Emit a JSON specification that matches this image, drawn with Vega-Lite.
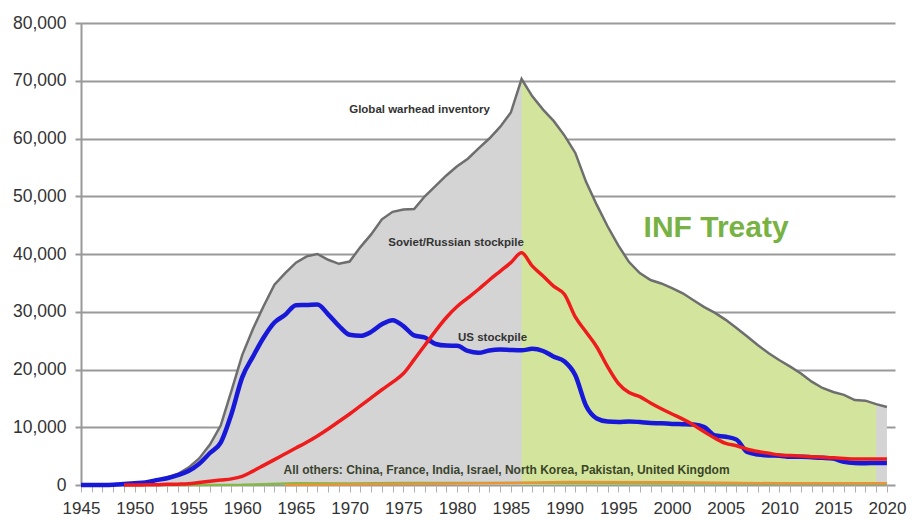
{
  "$schema": "https://vega.github.io/schema/vega-lite/v6.json",
  "width": 814,
  "height": 462,
  "autosize": {"type": "none"},
  "padding": {"left": 81, "top": 23, "right": 24, "bottom": 35},
  "background": "white",
  "config": {"view": {"stroke": null}},
  "datasets": {
    "global": [
      {"year": 1945, "value": 2}, {"year": 1946, "value": 9}, {"year": 1947, "value": 13}, {"year": 1948, "value": 50},
      {"year": 1949, "value": 171}, {"year": 1950, "value": 305}, {"year": 1951, "value": 460}, {"year": 1952, "value": 890},
      {"year": 1953, "value": 1300}, {"year": 1954, "value": 1900}, {"year": 1955, "value": 3000}, {"year": 1956, "value": 4600},
      {"year": 1957, "value": 7000}, {"year": 1958, "value": 10300}, {"year": 1959, "value": 16300}, {"year": 1960, "value": 22500},
      {"year": 1961, "value": 27000}, {"year": 1962, "value": 31000}, {"year": 1963, "value": 34700}, {"year": 1964, "value": 36700},
      {"year": 1965, "value": 38500}, {"year": 1966, "value": 39600}, {"year": 1967, "value": 40000}, {"year": 1968, "value": 39000},
      {"year": 1969, "value": 38300}, {"year": 1970, "value": 38700}, {"year": 1971, "value": 41200}, {"year": 1972, "value": 43400},
      {"year": 1973, "value": 46000}, {"year": 1974, "value": 47300}, {"year": 1975, "value": 47700}, {"year": 1976, "value": 47800},
      {"year": 1977, "value": 50000}, {"year": 1978, "value": 51800}, {"year": 1979, "value": 53600}, {"year": 1980, "value": 55200},
      {"year": 1981, "value": 56500}, {"year": 1982, "value": 58300}, {"year": 1983, "value": 60000}, {"year": 1984, "value": 62000},
      {"year": 1985, "value": 64500}, {"year": 1986, "value": 70300}, {"year": 1987, "value": 67300}, {"year": 1988, "value": 65000},
      {"year": 1989, "value": 63000}, {"year": 1990, "value": 60500}, {"year": 1991, "value": 57500}, {"year": 1992, "value": 52500},
      {"year": 1993, "value": 48500}, {"year": 1994, "value": 44800}, {"year": 1995, "value": 41500}, {"year": 1996, "value": 38600},
      {"year": 1997, "value": 36700}, {"year": 1998, "value": 35500}, {"year": 1999, "value": 34900}, {"year": 2000, "value": 34100},
      {"year": 2001, "value": 33200}, {"year": 2002, "value": 32000}, {"year": 2003, "value": 30800}, {"year": 2004, "value": 29800},
      {"year": 2005, "value": 28600}, {"year": 2006, "value": 27200}, {"year": 2007, "value": 25700}, {"year": 2008, "value": 24200},
      {"year": 2009, "value": 22800}, {"year": 2010, "value": 21600}, {"year": 2011, "value": 20500}, {"year": 2012, "value": 19300},
      {"year": 2013, "value": 17900}, {"year": 2014, "value": 16800}, {"year": 2015, "value": 16100}, {"year": 2016, "value": 15600},
      {"year": 2017, "value": 14700}, {"year": 2018, "value": 14600}, {"year": 2019, "value": 14000}, {"year": 2020, "value": 13500}
    ],
    "us": [
      {"year": 1945, "value": 2}, {"year": 1946, "value": 9}, {"year": 1947, "value": 13}, {"year": 1948, "value": 50},
      {"year": 1949, "value": 170}, {"year": 1950, "value": 299}, {"year": 1951, "value": 438}, {"year": 1952, "value": 841},
      {"year": 1953, "value": 1169}, {"year": 1954, "value": 1703}, {"year": 1955, "value": 2422}, {"year": 1956, "value": 3692},
      {"year": 1957, "value": 5543}, {"year": 1958, "value": 7345}, {"year": 1959, "value": 12298}, {"year": 1960, "value": 18638},
      {"year": 1961, "value": 22229}, {"year": 1962, "value": 25540}, {"year": 1963, "value": 28133}, {"year": 1964, "value": 29463},
      {"year": 1965, "value": 31139}, {"year": 1966, "value": 31175}, {"year": 1967, "value": 31255}, {"year": 1968, "value": 29561},
      {"year": 1969, "value": 27552}, {"year": 1970, "value": 26008}, {"year": 1971, "value": 25830}, {"year": 1972, "value": 26516},
      {"year": 1973, "value": 27835}, {"year": 1974, "value": 28537}, {"year": 1975, "value": 27519}, {"year": 1976, "value": 25914},
      {"year": 1977, "value": 25542}, {"year": 1978, "value": 24418}, {"year": 1979, "value": 24138}, {"year": 1980, "value": 24104},
      {"year": 1981, "value": 23208}, {"year": 1982, "value": 22886}, {"year": 1983, "value": 23305}, {"year": 1984, "value": 23459},
      {"year": 1985, "value": 23368}, {"year": 1986, "value": 23317}, {"year": 1987, "value": 23575}, {"year": 1988, "value": 23205},
      {"year": 1989, "value": 22217}, {"year": 1990, "value": 21392}, {"year": 1991, "value": 19008}, {"year": 1992, "value": 13708},
      {"year": 1993, "value": 11511}, {"year": 1994, "value": 10979}, {"year": 1995, "value": 10904}, {"year": 1996, "value": 11011},
      {"year": 1997, "value": 10903}, {"year": 1998, "value": 10732}, {"year": 1999, "value": 10685}, {"year": 2000, "value": 10577},
      {"year": 2001, "value": 10526}, {"year": 2002, "value": 10457}, {"year": 2003, "value": 10027}, {"year": 2004, "value": 8570},
      {"year": 2005, "value": 8360}, {"year": 2006, "value": 7853}, {"year": 2007, "value": 5709}, {"year": 2008, "value": 5273},
      {"year": 2009, "value": 5113}, {"year": 2010, "value": 5066}, {"year": 2011, "value": 4897}, {"year": 2012, "value": 4881},
      {"year": 2013, "value": 4804}, {"year": 2014, "value": 4717}, {"year": 2015, "value": 4571}, {"year": 2016, "value": 4018},
      {"year": 2017, "value": 3822}, {"year": 2018, "value": 3785}, {"year": 2019, "value": 3805}, {"year": 2020, "value": 3800}
    ],
    "ussr": [
      {"year": 1949, "value": 1}, {"year": 1950, "value": 5}, {"year": 1951, "value": 25}, {"year": 1952, "value": 50},
      {"year": 1953, "value": 120}, {"year": 1954, "value": 150}, {"year": 1955, "value": 200}, {"year": 1956, "value": 426},
      {"year": 1957, "value": 660}, {"year": 1958, "value": 869}, {"year": 1959, "value": 1060}, {"year": 1960, "value": 1500},
      {"year": 1961, "value": 2400}, {"year": 1962, "value": 3400}, {"year": 1963, "value": 4400}, {"year": 1964, "value": 5400},
      {"year": 1965, "value": 6400}, {"year": 1966, "value": 7400}, {"year": 1967, "value": 8500}, {"year": 1968, "value": 9700},
      {"year": 1969, "value": 11000}, {"year": 1970, "value": 12300}, {"year": 1971, "value": 13700}, {"year": 1972, "value": 15100},
      {"year": 1973, "value": 16500}, {"year": 1974, "value": 17800}, {"year": 1975, "value": 19300}, {"year": 1976, "value": 21700},
      {"year": 1977, "value": 24200}, {"year": 1978, "value": 26700}, {"year": 1979, "value": 29000}, {"year": 1980, "value": 30900},
      {"year": 1981, "value": 32400}, {"year": 1982, "value": 33900}, {"year": 1983, "value": 35500}, {"year": 1984, "value": 37000},
      {"year": 1985, "value": 38500}, {"year": 1986, "value": 40200}, {"year": 1987, "value": 37900}, {"year": 1988, "value": 36200},
      {"year": 1989, "value": 34400}, {"year": 1990, "value": 33000}, {"year": 1991, "value": 29100}, {"year": 1992, "value": 26500},
      {"year": 1993, "value": 23900}, {"year": 1994, "value": 20500}, {"year": 1995, "value": 17600}, {"year": 1996, "value": 16000},
      {"year": 1997, "value": 15300}, {"year": 1998, "value": 14200}, {"year": 1999, "value": 13200}, {"year": 2000, "value": 12300},
      {"year": 2001, "value": 11400}, {"year": 2002, "value": 10400}, {"year": 2003, "value": 9200}, {"year": 2004, "value": 8100},
      {"year": 2005, "value": 7200}, {"year": 2006, "value": 6800}, {"year": 2007, "value": 6200}, {"year": 2008, "value": 5800},
      {"year": 2009, "value": 5500}, {"year": 2010, "value": 5200}, {"year": 2011, "value": 5100}, {"year": 2012, "value": 5000},
      {"year": 2013, "value": 4900}, {"year": 2014, "value": 4800}, {"year": 2015, "value": 4700}, {"year": 2016, "value": 4600},
      {"year": 2017, "value": 4500}, {"year": 2018, "value": 4500}, {"year": 2019, "value": 4500}, {"year": 2020, "value": 4500}
    ],
    "others": [
      {"country": "United Kingdom", "year": 1952, "value": 0}, {"country": "United Kingdom", "year": 1955, "value": 10},
      {"country": "United Kingdom", "year": 1960, "value": 30}, {"country": "United Kingdom", "year": 1965, "value": 310},
      {"country": "United Kingdom", "year": 1970, "value": 280}, {"country": "United Kingdom", "year": 1975, "value": 350},
      {"country": "United Kingdom", "year": 1980, "value": 350}, {"country": "United Kingdom", "year": 1990, "value": 300},
      {"country": "United Kingdom", "year": 2000, "value": 280}, {"country": "United Kingdom", "year": 2010, "value": 225},
      {"country": "United Kingdom", "year": 2020, "value": 215},
      {"country": "France", "year": 1964, "value": 4}, {"country": "France", "year": 1967, "value": 36},
      {"country": "France", "year": 1975, "value": 188}, {"country": "France", "year": 1980, "value": 250},
      {"country": "France", "year": 1985, "value": 360}, {"country": "France", "year": 1990, "value": 505},
      {"country": "France", "year": 2000, "value": 470}, {"country": "France", "year": 2010, "value": 300},
      {"country": "France", "year": 2020, "value": 290}
    ]
  },
  "encoding": {
    "x": {
      "field": "year", "type": "quantitative",
      "scale": {"domain": [1945, 2020.75], "nice": false, "zero": false},
      "axis": {
        "title": null,
        "values": [1945,1946,1947,1948,1949,1950,1951,1952,1953,1954,1955,1956,1957,1958,1959,1960,1961,1962,1963,1964,1965,1966,1967,1968,1969,1970,1971,1972,1973,1974,1975,1976,1977,1978,1979,1980,1981,1982,1983,1984,1985,1986,1987,1988,1989,1990,1991,1992,1993,1994,1995,1996,1997,1998,1999,2000,2001,2002,2003,2004,2005,2006,2007,2008,2009,2010,2011,2012,2013,2014,2015,2016,2017,2018,2019,2020],
        "format": "d",
        "labelExpr": "datum.value % 5 === 0 ? datum.label : ''",
        "labelOverlap": false,
        "labelFlush": false,
        "grid": false,
        "domain": false,
        "tickSize": 7,
        "tickColor": "#b0b0b0",
        "tickWidth": 1,
        "labelFont": "Liberation Sans",
        "labelFontSize": 17,
        "labelColor": "#333333",
        "labelPadding": 8
      }
    },
    "y": {
      "field": "value", "type": "quantitative",
      "scale": {"domain": [0, 80000], "nice": false},
      "axis": {
        "title": null,
        "values": [0, 10000, 20000, 30000, 40000, 50000, 60000, 70000, 80000],
        "format": ",d",
        "grid": true,
        "gridColor": "#999999",
        "gridWidth": 2,
        "domain": true,
        "domainColor": "#999999",
        "domainWidth": 2,
        "tickSize": 6,
        "tickColor": "#999999",
        "tickWidth": 2,
        "labelFont": "Liberation Sans",
        "labelFontSize": 17.5,
        "labelColor": "#333333",
        "labelPadding": 9
      }
    }
  },
  "layer": [
    {"data": {"name": "global"}, "mark": {"type": "area", "color": "#d4d4d4"}},
    {"data": {"name": "global"}, "transform": [{"filter": "datum.year >= 1986 && datum.year <= 2019"}], "mark": {"type": "area", "color": "#d3e59d"}},
    {"data": {"name": "global"}, "mark": {"type": "line", "color": "#6e6e6e", "strokeWidth": 2.5}},
    {"data": {"name": "others"}, "mark": {"type": "line", "strokeWidth": 2.5},
     "encoding": {"color": {"field": "country", "type": "nominal", "scale": {"domain": ["United Kingdom", "France"], "range": ["#86b847", "#e8953a"]}, "legend": null}}},
    {"data": {"name": "us"}, "mark": {"type": "line", "color": "#1818d8", "strokeWidth": 4.5, "interpolate": "monotone"}},
    {"data": {"name": "ussr"}, "mark": {"type": "line", "color": "#ee1c1c", "strokeWidth": 3.5, "interpolate": "monotone"}},
    {"data": {"values": [{"year": 1976.5, "value": 64900, "text": "Global warhead inventory"}]},
     "mark": {"type": "text", "font": "Liberation Sans", "fontWeight": "bold", "fontSize": 11.5, "color": "#333333", "align": "center", "baseline": "middle"},
     "encoding": {"text": {"field": "text"}}},
    {"data": {"values": [{"year": 1979.9, "value": 41850, "text": "Soviet/Russian stockpile"}]},
     "mark": {"type": "text", "font": "Liberation Sans", "fontWeight": "bold", "fontSize": 11.5, "color": "#333333", "align": "center", "baseline": "middle"},
     "encoding": {"text": {"field": "text"}}},
    {"data": {"values": [{"year": 1983.3, "value": 25450, "text": "US stockpile"}]},
     "mark": {"type": "text", "font": "Liberation Sans", "fontWeight": "bold", "fontSize": 11.5, "color": "#333333", "align": "center", "baseline": "middle"},
     "encoding": {"text": {"field": "text"}}},
    {"data": {"values": [{"year": 1984.6, "value": 2600, "text": "All others: China, France, India, Israel, North Korea, Pakistan, United Kingdom"}]},
     "mark": {"type": "text", "font": "Liberation Sans", "fontWeight": "bold", "fontSize": 12, "color": "#1e2a10", "opacity": 0.85, "align": "center", "baseline": "middle"},
     "encoding": {"text": {"field": "text"}}},
    {"data": {"values": [{"year": 2004.1, "value": 42900, "text": "INF Treaty"}]},
     "mark": {"type": "text", "font": "Liberation Sans", "fontWeight": "bold", "fontSize": 30, "color": "#77b243", "align": "center", "baseline": "alphabetic"},
     "encoding": {"text": {"field": "text"}}}
  ]
}
